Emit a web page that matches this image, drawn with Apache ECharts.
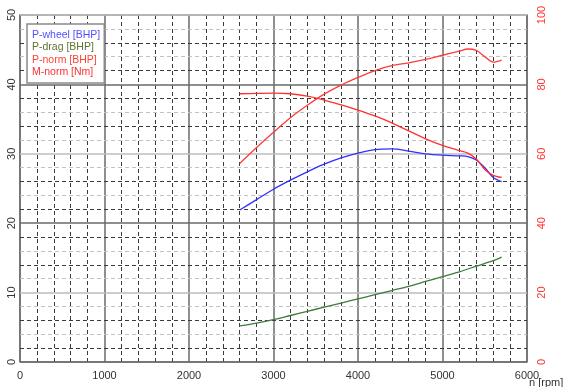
<!DOCTYPE html>
<html>
<head>
<meta charset="utf-8">
<script src="https://cdn.jsdelivr.net/npm/echarts@6/dist/echarts.min.js"></script>
<style>
  html, body { margin: 0; padding: 0; background: #fff; }
  #dyno { width: 574px; height: 387px; }
</style>
</head>
<body>
<div id="dyno"></div>
<script>
// rpm samples + readings (BHP on left axis, Nm on right axis)
const rpmWheel = [2600, 2800, 3000, 3200, 3400, 3600, 3800, 4000, 4200, 4400, 4600, 4800, 5000, 5200, 5300, 5400, 5500, 5600, 5700];
const pWheel = [21.9, 23.4, 24.9, 26.2, 27.4, 28.5, 29.4, 30.1, 30.6, 30.7, 30.4, 30.0, 29.8, 29.7, 29.6, 29.1, 28.0, 26.6, 26.0];

const rpmDrag = [2600, 2800, 3000, 3200, 3400, 3600, 3800, 4000, 4200, 4400, 4600, 4800, 5000, 5200, 5400, 5600, 5700];
const pDrag = [5.2, 5.6, 6.1, 6.7, 7.3, 7.9, 8.5, 9.1, 9.7, 10.3, 10.9, 11.6, 12.3, 13.0, 13.8, 14.6, 15.1];

const rpmNorm = [2600, 2800, 3000, 3200, 3400, 3600, 3800, 4000, 4200, 4400, 4600, 4800, 5000, 5200, 5300, 5400, 5500, 5600, 5700];
const pNorm = [28.6, 30.9, 33.1, 35.2, 37.0, 38.6, 39.9, 41.0, 42.0, 42.7, 43.1, 43.6, 44.2, 44.8, 45.1, 44.9, 44.0, 43.2, 43.5];
const mNorm = [77.3, 77.4, 77.5, 77.3, 76.6, 75.5, 74.1, 72.6, 70.9, 68.9, 66.6, 64.3, 62.4, 60.9, 60.2, 58.5, 55.5, 53.8, 53.2];

const names = ['P-wheel [BHP]', 'P-drag [BHP]', 'P-norm [BHP]', 'M-norm [Nm]'];

function pairs (xs, ys) {
  return xs.map((x, i) => [x, ys[i]]);
}

const chart = echarts.init(document.getElementById('dyno'));
const labelFont = { fontFamily: 'Liberation Sans', fontSize: 11 };
const dark = '#3a3a3a';
const light = '#c2c2c2';

chart.setOption({
  animation: false,
  backgroundColor: '#fff',
  grid: {
    left: 20, right: 47, top: 15, bottom: 25,
    show: true,
    borderColor: '#808080',
    borderWidth: 1.5
  },
  legend: {
    orient: 'vertical',
    left: 27, top: 24,
    padding: [5, 4, 5, 0],
    itemWidth: 0, itemHeight: 12, itemGap: 1,
    icon: 'none',
    borderColor: '#8a8a8a', borderWidth: 1.5,
    backgroundColor: '#fff',
    selectedMode: false,
    textStyle: { fontFamily: 'Liberation Sans', fontSize: 10.5 },
    data: [
      { name: names[0], textStyle: { color: '#5050ff' } },
      { name: names[1], textStyle: { color: '#5f7330' } },
      { name: names[2], textStyle: { color: '#ff4433' } },
      { name: names[3], textStyle: { color: '#ff3030' } }
    ]
  },
  graphic: [{
    type: 'text',
    left: 529, top: 377,
    style: { text: 'n [rpm]', fill: '#333', font: '11px "Liberation Sans"' }
  }],
  xAxis: {
    type: 'value',
    min: 0, max: 6000, interval: 1000,
    axisLine: { show: false },
    axisTick: { show: false },
    axisLabel: Object.assign({ color: '#333', margin: 8, formatter: v => String(v) }, labelFont),
    splitLine: { lineStyle: { color: '#6a6a6a', width: 1.5 } },
    minorTick: { show: false, splitNumber: 5 },
    minorSplitLine: { show: true, lineStyle: { color: dark, type: [4, 3], width: 1 } }
  },
  yAxis: [
    {
      type: 'value',
      position: 'left',
      min: 0, max: 50, interval: 10,
      z: 2,
      axisLine: { show: false },
      axisTick: { show: false },
      axisLabel: Object.assign({ color: '#333', rotate: 90, margin: 3 }, labelFont),
      splitLine: { lineStyle: { color: ['#6a6a6a', '#bdbdbd'], width: 1.5 } }
    },
    {
      type: 'value',
      position: 'right',
      min: 0, max: 100, interval: 20,
      axisLine: { show: false },
      axisTick: { show: false },
      axisLabel: Object.assign({ color: '#ff3333', rotate: 90, margin: 9 }, labelFont),
      splitLine: { show: false }
    },
    {
      // dashed 2-unit grid, every other one lighter
      type: 'value',
      position: 'left',
      min: 0, max: 50, interval: 2,
      z: 1,
      axisLine: { show: false },
      axisTick: { show: false },
      axisLabel: { show: false },
      splitLine: {
        lineStyle: {
          type: [4, 3],
          width: 1,
          color: ['rgba(0,0,0,0)', dark, light, dark, light, 'rgba(0,0,0,0)', light, dark, light, dark]
        }
      }
    }
  ],
  series: [
    {
      name: names[0], type: 'line', yAxisIndex: 0,
      showSymbol: false, smooth: 0.3,
      lineStyle: { color: '#3030ff', width: 1.3 },
      itemStyle: { color: '#3030ff' },
      data: pairs(rpmWheel, pWheel)
    },
    {
      name: names[1], type: 'line', yAxisIndex: 0,
      showSymbol: false, smooth: 0.3,
      lineStyle: { color: '#3d7a3d', width: 1.3 },
      itemStyle: { color: '#3d7a3d' },
      data: pairs(rpmDrag, pDrag)
    },
    {
      name: names[2], type: 'line', yAxisIndex: 0,
      showSymbol: false, smooth: 0.3,
      lineStyle: { color: '#ff3b3b', width: 1.3 },
      itemStyle: { color: '#ff3b3b' },
      data: pairs(rpmNorm, pNorm)
    },
    {
      name: names[3], type: 'line', yAxisIndex: 1,
      showSymbol: false, smooth: 0.3,
      lineStyle: { color: '#ff3030', width: 1.3 },
      itemStyle: { color: '#ff3030' },
      data: pairs(rpmNorm, mNorm)
    }
  ]
});
</script>
</body>
</html>
